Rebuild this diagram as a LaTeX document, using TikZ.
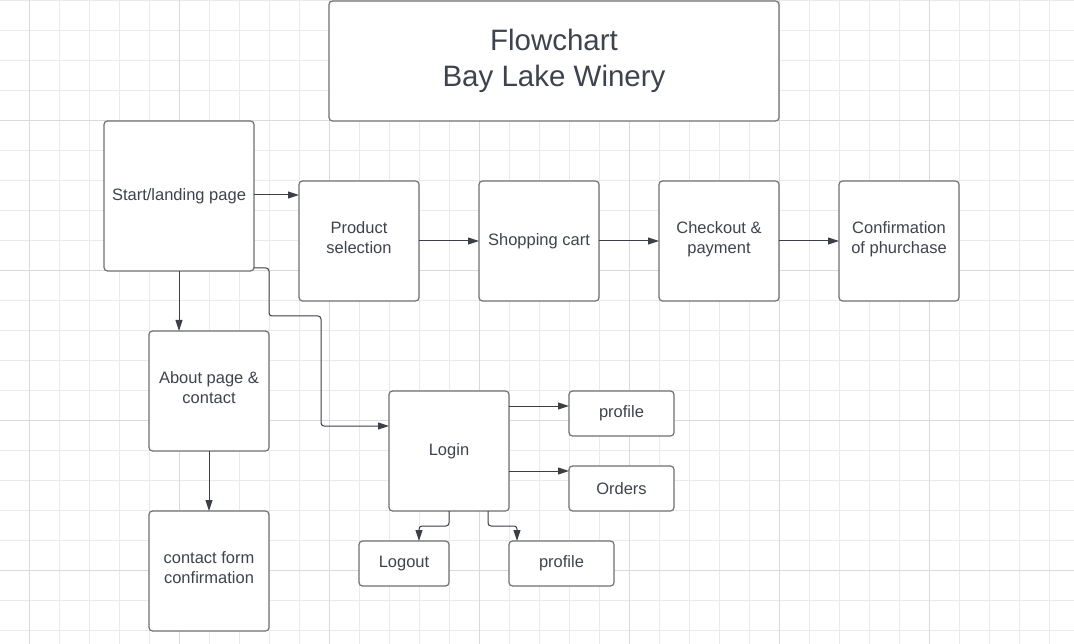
\documentclass[tikz,border=0pt]{standalone}
\usepackage{fontspec}
\setmainfont{Liberation Sans}
\usetikzlibrary{arrows.meta}
\definecolor{txt}{RGB}{62,67,77}
\definecolor{brd}{RGB}{112,112,112}
\definecolor{arc}{RGB}{58,63,72}
\definecolor{gmin}{RGB}{234,234,234}
\definecolor{gmaj}{RGB}{218,218,218}
\tikzset{
  box/.style={draw=brd, line width=1.2pt, rounded corners=3.5pt, fill=white, text=txt,
    align=center, inner sep=0pt, outer sep=0pt,
    font=\fontsize{16.5}{20}\selectfont},
  two/.style={text depth=7pt},
  arr/.style={draw=arc, line width=1pt, rounded corners=3pt,
    -{Triangle[length=11pt,width=7pt]}},
}
\begin{document}
\begin{tikzpicture}[x=1pt,y=-1pt]
\useasboundingbox (0,0) rectangle (1074,644);
\fill[white] (0,0) rectangle (1074,644);
% grid
\foreach \x in {29.5,59.5,...,1074} \draw[gmin, line width=0.8pt] (\x,0) -- (\x,644);
\foreach \y in {0.5,30.5,...,644} \draw[gmin, line width=0.8pt] (0,\y) -- (1074,\y);
\foreach \x in {29.5,179.5,...,1074} \draw[gmaj, line width=0.8pt] (\x,0) -- (\x,644);
\foreach \y in {120.5,270.5,...,644} \draw[gmaj, line width=0.8pt] (0,\y) -- (1074,\y);
% nodes
\node[box, minimum width=450pt, minimum height=120pt, font=\fontsize{29.5}{36}\selectfont] (title) at (554,61) {Flowchart\\Bay Lake Winery};
\node[box, minimum width=150pt, minimum height=150pt] (start) at (179,196) {Start/landing page};
\node[box, two, minimum width=120pt, minimum height=120pt] (prod) at (359,241) {Product\\selection};
\node[box, minimum width=120pt, minimum height=120pt] (cart) at (539,241) {Shopping cart};
\node[box, two, minimum width=120pt, minimum height=120pt] (check) at (719,241) {Checkout \&\\payment};
\node[box, two, minimum width=120pt, minimum height=120pt] (conf) at (899,241) {Confirmation\\of phurchase};
\node[box, two, minimum width=120pt, minimum height=120pt] (about) at (209,391) {About page \&\\contact};
\node[box, two, minimum width=120pt, minimum height=120pt] (contact) at (209,571) {contact form\\confirmation};
\node[box, minimum width=120pt, minimum height=120pt] (login) at (449,451) {Login};
\node[box, minimum width=105pt, minimum height=45pt] (prof1) at (621.5,413.5) {profile};
\node[box, minimum width=105pt, minimum height=45pt] (orders) at (621.5,488.5) {Orders};
\node[box, minimum width=90pt, minimum height=45pt] (logout) at (404,563.5) {Logout};
\node[box, minimum width=105pt, minimum height=45pt] (prof2) at (561.5,563.5) {profile};
% connectors
\draw[arr] ([yshift=1pt]start.east) -- ([yshift=1pt]start.east -| prod.west);
\draw[arr] (prod.east) -- (cart.west);
\draw[arr] (cart.east) -- (check.west);
\draw[arr] (check.east) -- (conf.west);
\draw[arr] (start.south) -- (start.south |- about.north);
\draw[arr] (about.south) -- (contact.north);
\draw[arr] ([yshift=3pt]start.south east) -- ++(15,0) -- ++(0,48) -- ++(52,0) |- ([yshift=25pt]login.west);
\draw[arr] ([yshift=45pt]login.east) -- ([yshift=45pt]login.east -| prof1.west);
\draw[arr] ([yshift=-20pt]login.east) -- ([yshift=-20pt]login.east -| orders.west);
\draw[arr] (login.south) -- ++(0,15) -| ([xshift=15pt]logout.north);
\draw[arr] ([xshift=39pt]login.south) -- ++(0,15) -| ([xshift=-44.5pt]prof2.north);
\end{tikzpicture}
\end{document}
